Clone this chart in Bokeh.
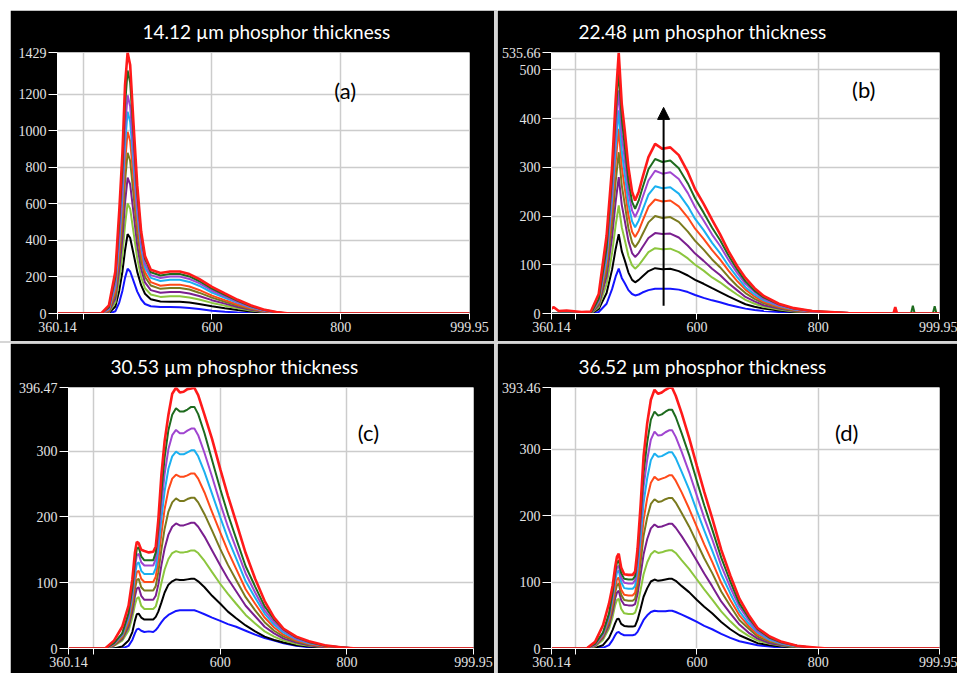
from bokeh.plotting import figure
from bokeh.models import Range1d, FixedTicker, Label, Arrow, NormalHead, Spacer
from bokeh.layouts import column, row
from bokeh.embed import file_html
from bokeh.resources import INLINE

# ---------------- data ----------------
x_ticks = [360.14, 400, 600, 800, 999.95]
x_labels = ["360.14", "", "600", "800", "999.95"]

series_names = ["blue", "black", "lgreen", "purple", "olive", "orange", "cyan", "violet", "dkgreen", "red"]
series_colors = ["#1414ff", "#000000", "#8cc63e", "#7a1f8f", "#7a7a1e", "#ff4a1a", "#1ab0f0", "#a045d0", "#1e6b1e", "#ff1a1a"]

# panel (a) 14.12 um
a_title = "14.12 µm phosphor thickness"
a_ymax = 1429
a_yticks = [0, 200, 400, 600, 800, 1000, 1200, 1429]
a_ylabels = ["0", "200", "400", "600", "800", "1000", "1200", "1429"]
a_wl = [360, 428, 440, 450, 456, 461, 465, 469, 473, 478, 484, 490, 496, 505, 520, 535, 550, 565, 580, 600, 620, 640, 660, 680, 700, 720, 1000]
a_blue = [0, 0, 0, 12, 60, 125, 195, 245, 230, 180, 120, 78, 52, 40, 36, 35, 34, 30, 24, 15, 9, 5, 2, 0, 0, 0, 0]
a_black = [0, 0, 3, 38, 125, 230, 345, 435, 413, 330, 228, 155, 108, 78, 66, 64, 64, 60, 52, 40, 29, 19, 11, 5, 1, 0, 0]
a_lgreen = [0, 0, 7, 60, 185, 325, 485, 603, 573, 450, 302, 199, 138, 104, 91, 94, 94, 88, 77, 58, 43, 29, 17, 8, 2, 0, 0]
a_purple = [0, 0, 10, 82, 240, 410, 605, 744, 707, 556, 372, 245, 170, 128, 114, 118, 118, 110, 96, 73, 54, 36, 21, 10, 3, 0, 0]
a_olive = [0, 0, 14, 105, 295, 495, 725, 880, 836, 657, 440, 290, 200, 153, 135, 140, 140, 131, 114, 87, 64, 43, 25, 12, 4, 0, 0]
a_orange = [0, 0, 18, 125, 340, 565, 825, 995, 945, 742, 497, 326, 226, 172, 152, 158, 158, 148, 129, 98, 73, 49, 29, 14, 4, 0, 0]
a_cyan = [0, 0, 24, 150, 390, 640, 925, 1105, 1050, 825, 552, 362, 252, 195, 178, 185, 185, 173, 152, 115, 86, 58, 34, 16, 5, 0, 0]
a_violet = [0, 0, 28, 170, 435, 705, 1010, 1195, 1135, 890, 595, 390, 272, 210, 194, 202, 202, 189, 166, 126, 94, 63, 37, 18, 6, 0, 0]
a_dkgreen = [0, 0, 35, 200, 500, 800, 1140, 1330, 1265, 990, 660, 430, 300, 226, 208, 216, 216, 203, 178, 136, 102, 69, 41, 20, 7, 0, 0]
a_red = [0, 0, 45, 230, 560, 880, 1250, 1429, 1360, 1050, 700, 450, 315, 240, 222, 230, 230, 216, 190, 146, 110, 75, 45, 22, 8, 0, 0]

# panel (b) 22.48 um
b_title = "22.48 µm phosphor thickness"
b_ymax = 535.66
b_yticks = [0, 100, 200, 300, 400, 500, 535.66]
b_ylabels = ["0", "100", "200", "300", "400", "500", "535.66"]
b_wl = [360, 364, 372, 385, 410, 425,
        438, 451, 460, 466, 471,
        476, 481, 487, 493, 498,
        504, 510, 520, 531, 543, 556,
        570, 585, 597, 611, 625, 638, 652, 666, 680, 695, 710, 735, 760, 790, 850,
        924, 927, 930, 953, 956, 959, 989, 992, 995, 1000]
b_blue = [0, 0, 0, 0, 0, 0, 3, 20, 50, 76, 92, 73, 62, 48, 40, 37, 39, 43, 48, 51, 51, 51,
          49, 44, 38, 32, 27, 23, 18, 14, 10, 7, 5, 3, 1, 0, 0, 0, 0, 0, 0, 0, 0, 0, 0, 0, 0]
b_black = [0, 0, 0, 0, 0, 0, 9, 42, 90, 133, 163, 128, 109, 84, 69, 64, 69, 76, 87, 93, 91, 92,
           87, 78, 69, 61, 52, 44, 35, 27, 19, 14, 10, 6, 3, 1, 0, 0, 0, 0, 0, 0, 0, 0, 0, 0, 0]
b_lgreen = [0, 0, 0, 0, 0, 0, 13, 60, 124, 182, 222, 177, 151, 118, 99, 92, 99, 109, 126, 134, 132, 133,
            126, 113, 100, 88, 74, 64, 51, 39, 28, 20, 14, 8, 4, 2, 0, 0, 0, 0, 0, 0, 0, 0, 0, 0, 0]
b_purple = [0, 0, 0, 0, 0, 0, 17, 76, 157, 230, 280, 223, 190, 149, 124, 116, 124, 136, 155, 165, 163, 164,
            156, 139, 123, 108, 92, 79, 62, 48, 34, 25, 17, 10, 5, 2, 0, 0, 0, 0, 0, 0, 0, 0, 0, 0, 0]
b_olive = [0, 0, 0, 0, 0, 0, 20, 89, 185, 271, 331, 263, 224, 175, 146, 136, 147, 162, 187, 200, 196, 198,
           188, 168, 149, 131, 111, 95, 75, 57, 42, 30, 21, 12, 6, 3, 0, 0, 0, 0, 0, 0, 0, 0, 0, 0, 0]
b_orange = [0, 0, 0, 0, 0, 0, 23, 102, 212, 311, 379, 301, 257, 201, 168, 157, 170, 189, 219, 234, 230, 232,
            220, 197, 174, 153, 130, 111, 88, 67, 49, 35, 24, 14, 7, 3, 1, 0, 0, 0, 0, 0, 0, 0, 0, 0, 0]
b_cyan = [0, 0, 0, 0, 0, 0, 25, 113, 234, 342, 417, 333, 285, 225, 189, 177, 191, 211, 244, 261, 257, 259,
          246, 220, 194, 171, 145, 124, 98, 75, 54, 39, 27, 16, 8, 4, 1, 0, 0, 0, 0, 0, 0, 0, 0, 0, 0]
b_violet = [0, 0, 0, 0, 0, 0, 27, 124, 256, 375, 458, 367, 315, 250, 211, 198, 214, 237, 273, 293, 287, 290,
            276, 247, 218, 191, 162, 139, 110, 84, 61, 44, 30, 17, 9, 4, 1, 0, 0, 0, 0, 0, 0, 0, 0, 0, 0]
b_dkgreen = [0, 0, 0, 0, 0, 0, 30, 135, 280, 410, 499, 400, 343, 272, 229, 215, 232, 257, 296, 317, 311, 314,
             298, 267, 236, 207, 176, 151, 119, 91, 66, 47, 33, 19, 10, 5, 1, 0, 0, 0, 0, 16, 0, 0, 15, 0, 0]
b_red = [10, 13, 5, 6, 3, 4, 40, 160, 300, 440, 535, 430, 375, 300, 250, 232, 250, 278, 321, 348, 338, 341,
         325, 290, 255, 225, 192, 163, 128, 98, 73, 52, 36, 20, 11, 5, 1, 0, 13, 0, 0, 0, 0, 0, 0, 0, 0]

# panels (c) and (d) share a wavelength grid
cd_wl = [360, 418, 432, 445, 455, 461, 465, 468, 471, 475, 480, 487, 494, 498, 502, 507, 512, 518, 524, 530,
         536, 542, 548, 554, 559, 565, 575, 587, 600, 612, 625, 640, 655, 670, 685, 700, 720, 740, 765, 790, 815, 1000]

c_title = "30.53 µm phosphor thickness"
c_ymax = 396.47
c_yticks = [0, 100, 200, 300, 396.47]
c_ylabels = ["0", "100", "200", "300", "396.47"]
c_blue = [0, 0, 0, 0, 4, 13, 23, 29, 30, 27, 25, 26, 25, 28, 33, 40, 46, 51, 54, 57, 58, 58, 58, 58, 58, 56, 52, 47, 42, 37, 33, 27, 21, 16, 12, 8, 4, 2, 1, 0, 0, 0]
c_black = [0, 0, 0, 3, 12, 25, 42, 52, 53, 47, 44, 44, 44, 48, 56, 70, 85, 97, 102, 105, 104, 104, 105, 106, 106, 102, 93, 80, 68, 56, 46, 35, 26, 18, 13, 9, 5, 3, 1, 0, 0, 0]
c_lgreen = [0, 0, 4, 12, 27, 47, 66, 76, 78, 65, 60, 60, 60, 64, 78, 100, 120, 136, 145, 148, 146, 146, 147, 149, 149, 145, 133, 116, 98, 83, 68, 51, 38, 26, 18, 12, 7, 4, 2, 1, 0, 0]
c_purple = [0, 0, 5, 14, 33, 56, 79, 91, 93, 80, 74, 74, 74, 80, 97, 127, 152, 173, 185, 190, 187, 187, 189, 191, 191, 185, 170, 149, 126, 106, 87, 65, 49, 33, 23, 15, 9, 5, 2, 1, 0, 0]
c_olive = [0, 0, 5, 16, 37, 64, 90, 104, 106, 93, 88, 88, 88, 95, 116, 151, 182, 208, 222, 228, 224, 224, 227, 229, 229, 222, 204, 179, 151, 127, 104, 78, 58, 40, 27, 18, 11, 6, 3, 1, 0, 0]
c_orange = [0, 0, 6, 18, 41, 71, 100, 116, 118, 106, 101, 101, 101, 109, 134, 175, 212, 241, 258, 264, 261, 261, 263, 266, 266, 258, 237, 207, 176, 148, 121, 90, 68, 47, 32, 21, 12, 7, 3, 1, 0, 0]
c_cyan = [0, 0, 7, 20, 46, 79, 111, 128, 131, 118, 113, 113, 113, 122, 151, 198, 239, 273, 292, 299, 295, 295, 298, 301, 301, 292, 268, 235, 199, 167, 137, 102, 77, 53, 36, 24, 14, 8, 4, 2, 0, 0]
c_violet = [0, 0, 7, 22, 50, 86, 122, 141, 144, 131, 126, 126, 126, 136, 168, 220, 265, 303, 324, 332, 327, 327, 331, 334, 334, 324, 297, 261, 220, 185, 152, 114, 85, 58, 40, 27, 15, 9, 4, 2, 0, 0]
c_dkgreen = [0, 0, 8, 23, 54, 92, 131, 151, 154, 140, 134, 134, 134, 146, 181, 239, 290, 332, 355, 365, 360, 360, 363, 367, 367, 356, 327, 286, 242, 204, 167, 125, 94, 64, 44, 29, 17, 10, 4, 2, 0, 0]
c_red = [0, 0, 12, 33, 65, 105, 145, 162, 160, 150, 148, 146, 147, 155, 195, 265, 315, 355, 387, 396, 389, 390, 394, 395, 396, 385, 355, 318, 272, 232, 192, 145, 106, 72, 47, 30, 18, 11, 5, 2, 0, 0]

d_title = "36.52 µm phosphor thickness"
d_ymax = 393.46
d_yticks = [0, 100, 200, 300, 393.46]
d_ylabels = ["0", "100", "200", "300", "393.46"]
d_blue = [0, 0, 0, 1, 5, 13, 20, 24, 25, 22, 20, 20, 20, 21, 25, 34, 43, 50, 55, 57, 56, 56, 56, 57, 57, 55, 51, 46, 40, 34, 29, 22, 16, 11, 8, 5, 3, 1, 1, 0, 0, 0]
d_black = [0, 0, 1, 5, 16, 28, 38, 44, 45, 37, 34, 33, 33, 34, 43, 60, 78, 91, 101, 104, 102, 103, 104, 105, 105, 102, 94, 85, 73, 63, 53, 40, 29, 20, 14, 8, 5, 3, 1, 0, 0, 0]
d_lgreen = [0, 0, 3, 13, 30, 48, 65, 73, 75, 60, 53, 52, 52, 54, 65, 88, 112, 130, 142, 147, 144, 145, 147, 148, 148, 144, 133, 120, 104, 89, 74, 56, 41, 28, 19, 12, 7, 4, 2, 0, 0, 0]
d_purple = [0, 0, 4, 16, 35, 56, 75, 84, 87, 73, 66, 65, 65, 67, 82, 111, 142, 165, 181, 187, 183, 184, 186, 188, 188, 182, 169, 152, 132, 113, 94, 71, 53, 36, 24, 15, 8, 5, 2, 1, 0, 0]
d_olive = [0, 0, 5, 18, 39, 63, 84, 95, 98, 81, 73, 72, 72, 75, 94, 129, 170, 198, 218, 225, 221, 222, 225, 227, 227, 220, 204, 184, 159, 136, 114, 86, 64, 43, 30, 18, 10, 6, 2, 1, 0, 0]
d_orange = [0, 0, 5, 19, 43, 68, 92, 104, 107, 89, 81, 80, 80, 84, 105, 147, 194, 227, 250, 259, 254, 256, 258, 261, 261, 253, 235, 211, 183, 157, 131, 99, 73, 50, 34, 21, 12, 7, 3, 1, 0, 0]
d_cyan = [0, 0, 6, 21, 47, 76, 101, 114, 118, 100, 91, 90, 90, 94, 119, 166, 220, 257, 284, 294, 289, 290, 293, 296, 296, 287, 266, 240, 207, 178, 148, 112, 83, 56, 38, 24, 13, 7, 3, 1, 0, 0]
d_violet = [0, 0, 6, 22, 50, 80, 108, 121, 125, 107, 99, 98, 98, 103, 130, 183, 244, 285, 315, 327, 321, 322, 326, 329, 329, 319, 296, 266, 230, 197, 165, 125, 92, 63, 43, 26, 15, 8, 4, 1, 0, 0]
d_dkgreen = [0, 0, 7, 24, 53, 85, 114, 129, 133, 114, 105, 104, 104, 109, 140, 199, 265, 311, 345, 357, 351, 353, 357, 360, 360, 349, 324, 292, 252, 216, 180, 137, 101, 68, 47, 29, 16, 9, 4, 1, 0, 0]
d_red = [0, 0, 10, 35, 68, 95, 122, 138, 143, 122, 112, 111, 111, 116, 150, 215, 290, 340, 375, 390, 384, 386, 390, 393, 393, 381, 354, 318, 275, 236, 197, 149, 110, 75, 51, 31, 18, 10, 4, 2, 0, 0]

# panel annotations (data coordinates)
a_tag = ("(a)", 807, 1222)
b_tag = ("(b)", 875, 460)
c_tag = ("(c)", 834, 328)
d_tag = ("(d)", 847, 326)
b_arrow = (545, 16, 545, 423)


def make_panel(title, title_shift, wl, curves, ymax, yticks, ylabels, tag, w, h, bl, br, bt, bb):
    p = figure(width=w, height=h, x_range=Range1d(360.14, 999.95), y_range=Range1d(0, ymax),
               output_backend="svg", toolbar_location=None,
               min_border_left=bl, min_border_right=br, min_border_top=bt, min_border_bottom=bb,
               background_fill_color="white", border_fill_color="black", outline_line_color=None)
    p.title.text = title
    p.title.align = "left"
    p.title.offset = title_shift
    p.title.vertical_align = "top"
    p.title.text_color = "white"
    p.title.text_font = "Lato"
    p.title.text_font_size = "19px"
    p.title.text_font_style = "normal"
    p.title.standoff = 16

    p.xaxis.ticker = FixedTicker(ticks=x_ticks)
    p.xaxis.major_label_overrides = {float(t): s for t, s in zip(x_ticks, x_labels)}
    p.yaxis.ticker = FixedTicker(ticks=yticks)
    p.yaxis.major_label_overrides = {float(t): s for t, s in zip(yticks, ylabels)}
    for ax in (p.xaxis[0], p.yaxis[0]):
        ax.axis_line_color = "white"
        ax.major_tick_line_color = "white"
        ax.minor_tick_line_color = None
        ax.major_tick_in = 0
        ax.major_label_text_color = "#e4e4e4"
        ax.major_label_text_font = "Liberation Serif"
        ax.major_label_text_font_size = "14px"
    p.xaxis.major_tick_out = 6
    p.xaxis.major_label_standoff = 2
    p.yaxis.major_tick_out = 9
    p.yaxis.major_label_standoff = 2

    p.grid.grid_line_color = "#cccccc"
    p.grid.grid_line_width = 1.5

    for name, color in zip(series_names, series_colors):
        lw = 2.6 if name == "red" else 2.0
        p.line(wl, curves[name], line_color=color, line_width=lw)

    p.add_layout(Label(x=tag[1], y=tag[2], text=tag[0], text_font="Lato", text_font_size="22px",
                       text_color="black", text_align="center", text_baseline="middle"))
    return p


a_curves = dict(zip(series_names, [a_blue, a_black, a_lgreen, a_purple, a_olive, a_orange, a_cyan, a_violet, a_dkgreen, a_red]))
b_curves = dict(zip(series_names, [b_blue, b_black, b_lgreen, b_purple, b_olive, b_orange, b_cyan, b_violet, b_dkgreen, b_red]))
c_curves = dict(zip(series_names, [c_blue, c_black, c_lgreen, c_purple, c_olive, c_orange, c_cyan, c_violet, c_dkgreen, c_red]))
d_curves = dict(zip(series_names, [d_blue, d_black, d_lgreen, d_purple, d_olive, d_orange, d_cyan, d_violet, d_dkgreen, d_red]))

pa = make_panel(a_title, 85, a_wl, a_curves, a_ymax, a_yticks, a_ylabels, a_tag, 484, 331, 47, 25, 42, 26)
pb = make_panel(b_title, 27, b_wl, b_curves, b_ymax, b_yticks, b_ylabels, b_tag, 460, 331, 54, 18, 42, 28)
pc = make_panel(c_title, 42, cd_wl, c_curves, c_ymax, c_yticks, c_ylabels, c_tag, 484, 330, 58, 21, 44, 25)
pd = make_panel(d_title, 27, cd_wl, d_curves, d_ymax, d_yticks, d_ylabels, d_tag, 460, 330, 54, 18, 44, 25)

pb.add_layout(Arrow(end=NormalHead(size=12, fill_color="black", line_color="black"),
                    x_start=b_arrow[0], y_start=b_arrow[1], x_end=b_arrow[2], y_end=b_arrow[3],
                    line_color="black", line_width=2))

sep = "#d6d6d6"
layout = column(
    Spacer(width=957, height=10),
    row(Spacer(width=10, height=331), pa, Spacer(width=3, height=331, styles={"background-color": sep}), pb),
    Spacer(width=957, height=2, styles={"background-color": sep}),
    row(Spacer(width=10, height=330), pc, Spacer(width=3, height=330, styles={"background-color": sep}), pd),
)

open("out.html", "w").write(file_html(layout, INLINE, title="phosphor thickness spectra"))
